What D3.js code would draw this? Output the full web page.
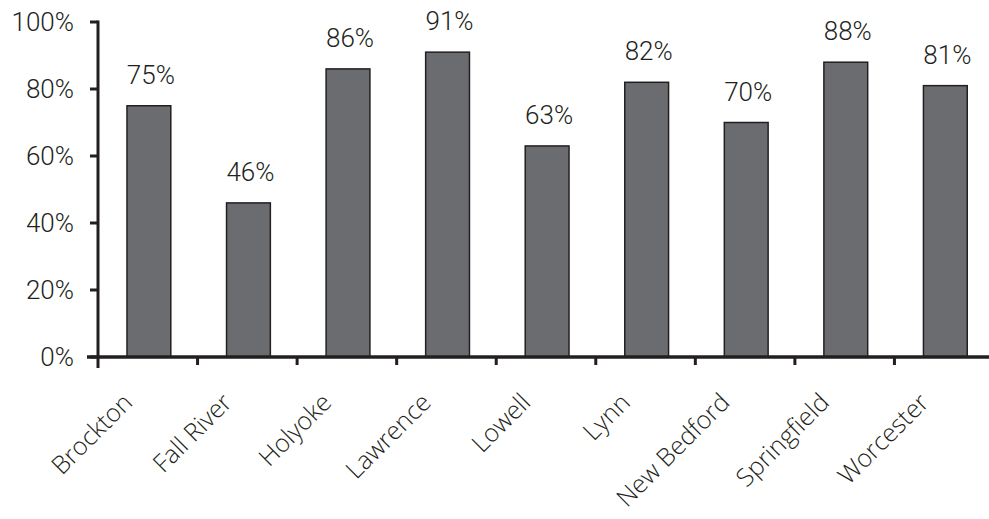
<!DOCTYPE html>
<html>
<head>
<meta charset="utf-8">
<script src="https://cdn.jsdelivr.net/npm/d3@7"></script>
<style>
  body { margin: 0; background: #fff; }
  svg text { fill: #231f20; }
</style>
</head>
<body>
<div id="chart"></div>
<script>
// values
var cities = ["Brockton", "Fall River", "Holyoke", "Lawrence", "Lowell", "Lynn", "New Bedford", "Springfield", "Worcester"];
var shares = [75, 46, 86, 91, 63, 82, 70, 88, 81];
var yTicks = [0, 20, 40, 60, 80, 100];

var width = 989,
    height = 519;

var x = d3.scaleBand()
    .domain(cities)
    .range([98, 994])
    .paddingInner(0.56)
    .paddingOuter(0.28)
    .align(0.52);

var xEdges = d3.scaleLinear().domain([0, cities.length]).range([98, 994]);

var y = d3.scaleLinear()
    .domain([0, 100])
    .range([357, 22]);

var svg = d3.select("#chart").append("svg")
    .attr("width", width)
    .attr("height", height);

// bars
svg.selectAll("rect.bar")
    .data(shares)
    .enter().append("rect")
    .attr("class", "bar")
    .attr("x", function (d, i) { return x(cities[i]); })
    .attr("width", x.bandwidth())
    .attr("y", function (d) { return y(d); })
    .attr("height", function (d) { return y(0) - y(d); })
    .attr("fill", "#6b6c70")
    .attr("stroke", "#231f20")
    .attr("stroke-width", 1.5);

// value labels
svg.selectAll("text.val")
    .data(shares)
    .enter().append("text")
    .attr("class", "val")
    .attr("x", function (d, i) { return x(cities[i]) + x.bandwidth() / 2 + 2; })
    .attr("y", function (d) { return y(d) - 22; })
    .attr("text-anchor", "middle")
    .style("font-family", "Roboto, sans-serif")
    .style("font-weight", 300)
    .style("font-size", "26px")
    .text(function (d) { return d + "%"; });

// y axis
var yAxis = svg.append("g");
yAxis.append("line")
    .attr("x1", 98).attr("x2", 98)
    .attr("y1", y(100) - 1.5).attr("y2", 368)
    .attr("stroke", "#231f20").attr("stroke-width", 3);
yAxis.selectAll("line.tk")
    .data(yTicks)
    .enter().append("line")
    .attr("class", "tk")
    .attr("x1", 90).attr("x2", 98)
    .attr("y1", function (d) { return y(d); })
    .attr("y2", function (d) { return y(d); })
    .attr("stroke", "#231f20").attr("stroke-width", 3);
yAxis.selectAll("text")
    .data(yTicks)
    .enter().append("text")
    .attr("x", 74)
    .attr("y", function (d) { return y(d); })
    .attr("dy", "0.36em")
    .attr("text-anchor", "end")
    .style("font-family", "Roboto, sans-serif")
    .style("font-weight", 300)
    .style("font-size", "26px")
    .text(function (d) { return d + "%"; });

// x axis
var xAxis = svg.append("g");
xAxis.append("line")
    .attr("x1", 87).attr("x2", 989)
    .attr("y1", y(0)).attr("y2", y(0))
    .attr("stroke", "#231f20").attr("stroke-width", 3.5);
xAxis.selectAll("line.tk")
    .data(d3.range(1, cities.length))
    .enter().append("line")
    .attr("class", "tk")
    .attr("x1", function (d) { return xEdges(d); })
    .attr("x2", function (d) { return xEdges(d); })
    .attr("y1", y(0)).attr("y2", 365)
    .attr("stroke", "#231f20").attr("stroke-width", 3);
xAxis.selectAll("text")
    .data(cities)
    .enter().append("text")
    .attr("text-anchor", "end")
    .attr("transform", function (d) {
        return "translate(" + (x(d) + x.bandwidth() / 2 - 15) + ",404) rotate(-45)";
    })
    .style("font-family", "'Open Sans', sans-serif")
    .style("font-weight", 300)
    .style("font-size", "25px")
    .text(function (d) { return d; });
</script>
</body>
</html>
